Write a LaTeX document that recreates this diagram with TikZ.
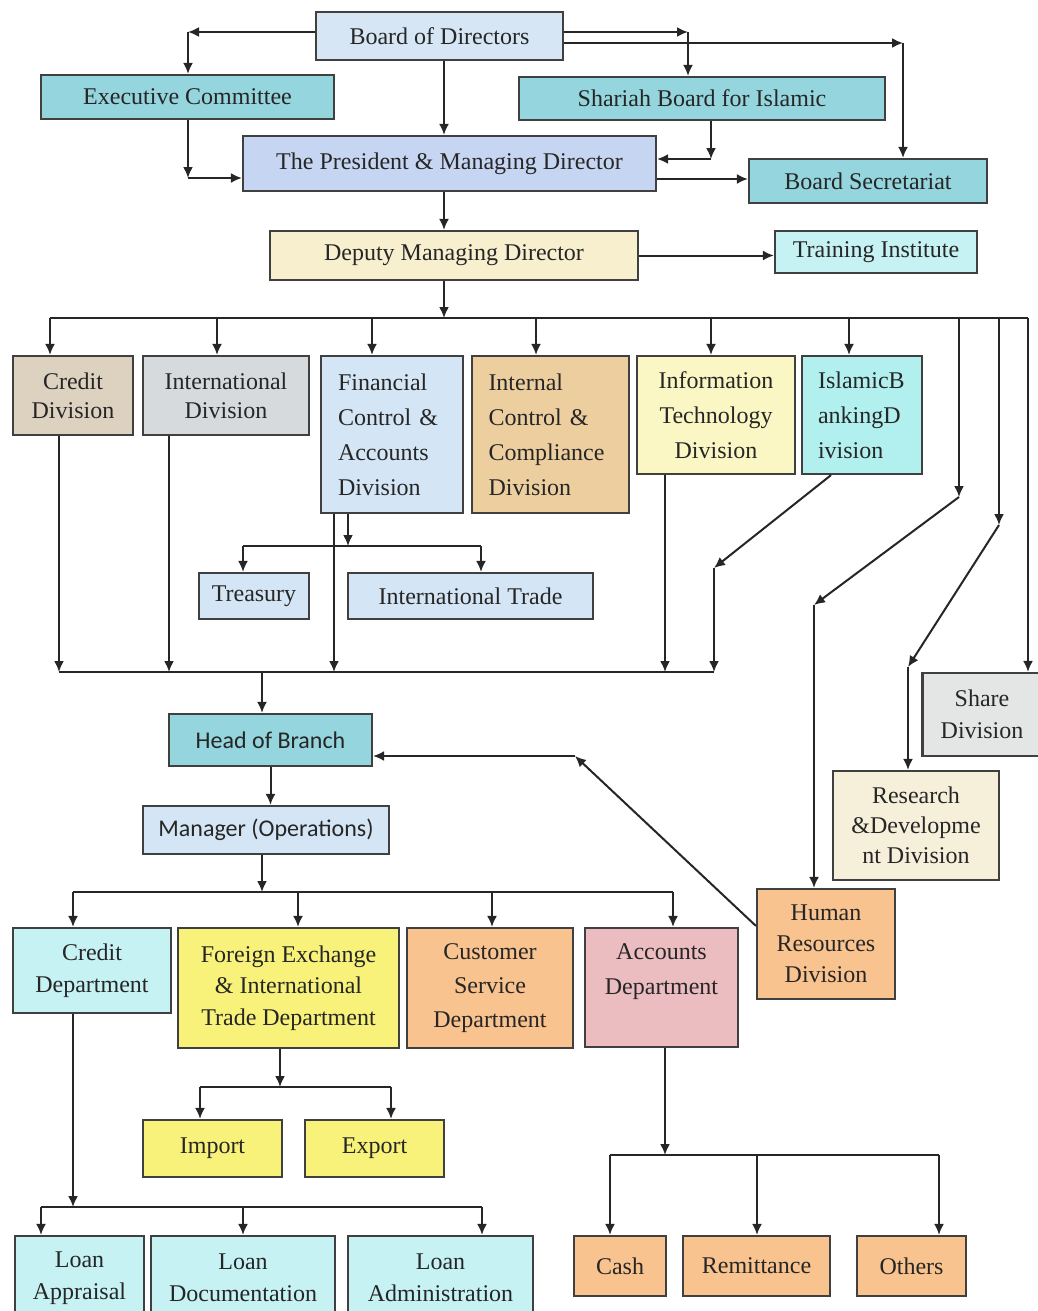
\documentclass[tikz,border=0pt]{standalone}
\usepackage{fontspec}
\setmainfont{Liberation Serif}
\newfontfamily\calibrifont{Carlito}
\usetikzlibrary{arrows.meta}

\definecolor{bodblue}{HTML}{D6E6F5}
\definecolor{teal1}{HTML}{95D5DE}
\definecolor{presblue}{HTML}{C6D6F2}
\definecolor{cream}{HTML}{F8EFCF}
\definecolor{paleaqua}{HTML}{C6F2F4}
\definecolor{tan1}{HTML}{DDD2C0}
\definecolor{greyish}{HTML}{D6DADC}
\definecolor{ltblue}{HTML}{D4E6F5}
\definecolor{tan2}{HTML}{EDCF9F}
\definecolor{ltyellow}{HTML}{FBF7C4}
\definecolor{aqua}{HTML}{B2F0F0}
\definecolor{ltgrey}{HTML}{E4E6E6}
\definecolor{cream2}{HTML}{F6F0DA}
\definecolor{orange1}{HTML}{F8C38E}
\definecolor{yellow1}{HTML}{F8F27A}
\definecolor{pink1}{HTML}{EBBCC0}

\begin{document}
\begin{tikzpicture}[
  x=0.5pt, y=-0.5pt,
  >={Latex[length=5.5pt,width=5pt]},
  box/.style={
    draw=black!75, line width=1.1pt, align=center, inner sep=2pt,
    font=\fontsize{12}{16}\selectfont, text=black!85
  },
  tallbox/.style={box, font=\fontsize{12}{17.5}\selectfont},
  shortbox/.style={box, font=\fontsize{12}{14.5}\selectfont},
  arrow/.style={->, line width=1pt, black!85},
  link/.style={line width=1pt, black!85}
]
\clip (0,0) rectangle (1038,1311);
\fill[white] (0,0) rectangle (1038,1311);

% ---------- BOARD LEVEL ----------
\node[box, fill=bodblue, minimum width=123.5pt, minimum height=24pt] (board) at (439.5,36) {Board of Directors};
\node[box, fill=teal1, minimum width=146.5pt, minimum height=22pt] (excom) at (187.5,97) {Executive Committee};
\node[box, fill=teal1, minimum width=183pt, minimum height=21.5pt] (shariah) at (702,98.5) {Shariah Board for Islamic};
\node[box, fill=presblue, minimum width=206.5pt, minimum height=27.5pt] (president) at (449.5,163.5) {The President \& Managing Director};
\node[box, fill=teal1, minimum width=119pt, minimum height=22pt] (secretariat) at (868,181) {Board Secretariat};
\node[box, fill=cream, minimum width=184pt, minimum height=24.5pt] (deputy) at (454,255.5) {Deputy Managing Director};
\node[box, fill=paleaqua, minimum width=101pt, minimum height=21pt] (training) at (876,252) {Training Institute};

\coordinate (spine) at (444,0);
\coordinate (bk1) at (188,32);
\coordinate (bk2) at (688,32);
\coordinate (bk3) at (903,43);
\coordinate (bk4) at (188,178);
\coordinate (bk5) at (711,159);
\coordinate (bk6) at (0,179);

\draw[arrow] (board.west |- bk1) -- (bk1);
\draw[arrow] (bk1) -- (bk1 |- excom.north);
\draw[arrow] (board.east |- bk2) -- (bk2);
\draw[arrow] (bk2) -- (bk2 |- shariah.north);
\draw[arrow] (board.east |- bk3) -- (bk3);
\draw[arrow] (bk3) -- (bk3 |- secretariat.north);
\draw[arrow] (spine |- board.south) -- (spine |- president.north);
\draw[arrow] (bk1 |- excom.south) -- (bk4);
\draw[arrow] (bk4) -- (bk4 -| president.west);
\draw[arrow] (bk5 |- shariah.south) -- (bk5);
\draw[arrow] (bk5) -- (bk5 -| president.east);
\draw[arrow] (bk6 -| president.east) -- (bk6 -| secretariat.west);
\draw[arrow] (spine |- president.south) -- (spine |- deputy.north);
\draw[arrow] (deputy.east) -- (deputy.east -| training.west);

% ---------- DIVISIONS ----------
\node[shortbox, fill=tan1, minimum width=60pt, minimum height=39.5pt] (creditdiv) at (73,395.5) {Credit\\Division};
\node[shortbox, fill=greyish, minimum width=83pt, minimum height=39.5pt] (intldiv) at (226,395.5) {International\\Division};
\node[tallbox, fill=ltblue, minimum width=71pt, minimum height=78.5pt, align=left, text width=54pt, inner xsep=8.5pt] (fincon) at (392,434.5) {Financial\\Control \&\\Accounts\\Division};
\node[tallbox, fill=tan2, minimum width=78.5pt, minimum height=78.5pt, align=left, text width=62pt, inner xsep=8pt] (intcon) at (550.5,434.5) {Internal\\Control \&\\Compliance\\Division};
\node[tallbox, fill=ltyellow, minimum width=79pt, minimum height=59pt] (itdiv) at (716,415) {Information\\Technology\\Division};
\node[tallbox, fill=aqua, minimum width=60pt, minimum height=59pt, align=left, text width=44pt, inner xsep=8pt] (ibdiv) at (862,415) {IslamicB\\ankingD\\ivision};
\node[box, fill=ltblue, minimum width=55pt, minimum height=23pt] (treasury) at (254,596) {Treasury};
\node[box, fill=ltblue, minimum width=122.5pt, minimum height=23pt] (inttrade) at (470.5,596) {International Trade};
\node[box, fill=ltgrey, minimum width=59.5pt, minimum height=41.5pt] (sharediv) at (982,714.5) {Share\\Division};
\node[box, fill=cream2, minimum width=83pt, minimum height=54.5pt, font=\fontsize{12}{15}\selectfont] (rnddiv) at (916,825.5) {Research\\\&Developme\\nt Division};
\node[box, fill=orange1, minimum width=69pt, minimum height=55pt, font=\fontsize{12}{15.5}\selectfont] (hrdiv) at (826,944) {Human\\Resources\\Division};

\draw[arrow] (spine |- deputy.south) -- (444,318);
\draw[link] (50,318) -- (1028,318);
\foreach \x/\n in {50/creditdiv,217/intldiv,372/fincon,536/intcon,711/itdiv,849/ibdiv}
  \draw[arrow] (\x,318) -- (\x,0 |- \n.north);

% right-hand branches
\coordinate (hrk1) at (959,497);
\coordinate (hrk2) at (814,605);
\coordinate (rdk1) at (999,525);
\coordinate (rdk2) at (908,667);
\draw[arrow] (959,318) -- (hrk1);
\draw[arrow] (hrk1) -- (hrk2);
\draw[arrow] (hrk2) -- (hrk2 |- hrdiv.north);
\draw[arrow] (999,318) -- (rdk1);
\draw[arrow] (rdk1) -- (rdk2);
\draw[arrow] (rdk2) -- (rdk2 |- rnddiv.north);
\draw[arrow] (1028,318) -- (1028,0 |- sharediv.north);

% treasury / trade
\draw[arrow] (348,0 |- fincon.south) -- (348,546);
\draw[link] (243,546) -- (481,546);
\draw[arrow] (243,546) -- (243,0 |- treasury.north);
\draw[arrow] (481,546) -- (481,0 |- inttrade.north);

% ---------- BRANCH ----------
\node[box, fill=teal1, minimum width=101.5pt, minimum height=26pt, font=\calibrifont\fontsize{12}{14}\selectfont] (branch) at (270.5,740) {Head of Branch};
\node[box, fill=ltblue, minimum width=123pt, minimum height=24pt, font=\calibrifont\fontsize{12}{14}\selectfont] (manager) at (266,830) {Manager (Operations)};

\draw[link] (59,672) -- (714,672);
\foreach \x/\n in {59/creditdiv,169/intldiv,334/fincon,665/itdiv}
  \draw[arrow] (\x,0 |- \n.south) -- (\x,672);
\coordinate (ibk) at (714,568);
\draw[arrow] (831,0 |- ibdiv.south) -- (ibk);
\draw[arrow] (ibk) -- (714,672);
\draw[arrow] (262,672) -- (262,0 |- branch.north);
\draw[arrow] (branch.south) -- (branch.south |- manager.north);

\coordinate (hrk3) at (575,756);
\draw[arrow] ([yshift=-19pt]hrdiv.north west) -- (hrk3);
\draw[arrow] (hrk3) -- (branch.east |- hrk3);

% ---------- DEPARTMENTS ----------
\node[box, fill=paleaqua, minimum width=79pt, minimum height=42.5pt] (creditdep) at (92,970.5) {Credit\\Department};
\node[box, fill=yellow1, minimum width=110.5pt, minimum height=60pt, font=\fontsize{12}{15.75}\selectfont] (fxdep) at (288.5,988) {Foreign Exchange\\\& International\\Trade Department};
\node[box, fill=orange1, minimum width=83pt, minimum height=60pt, font=\fontsize{12}{17}\selectfont] (csdep) at (490,988) {Customer\\Service\\Department};
\node[box, fill=pink1, minimum width=76.5pt, minimum height=59.5pt, font=\fontsize{12}{17.5}\selectfont, text depth=18pt] (accdep) at (661.5,987.5) {Accounts\\Department};

\draw[arrow] (262,0 |- manager.south) -- (262,892);
\draw[link] (73,892) -- (673,892);
\foreach \x/\n in {73/creditdep,298/fxdep,492/csdep,673/accdep}
  \draw[arrow] (\x,892) -- (\x,0 |- \n.north);

% ---------- SECTIONS ----------
\node[box, fill=yellow1, minimum width=69.5pt, minimum height=28.5pt] (import) at (212.5,1148.5) {Import};
\node[box, fill=yellow1, minimum width=69.5pt, minimum height=28.5pt] (export) at (374.5,1148.5) {Export};
\node[box, fill=paleaqua, minimum width=64.5pt, minimum height=42pt] (loanapp) at (79.5,1278) {Loan\\Appraisal};
\node[box, fill=paleaqua, minimum width=92pt, minimum height=42pt] (loandoc) at (243,1278) {Loan\\Documentation};
\node[box, fill=paleaqua, minimum width=92.5pt, minimum height=42pt] (loanadm) at (440.5,1278) {Loan\\Administration};
\node[box, fill=orange1, minimum width=46pt, minimum height=30pt] (cash) at (620,1266) {Cash};
\node[box, fill=orange1, minimum width=73.5pt, minimum height=30pt] (remit) at (756.5,1266) {Remittance};
\node[box, fill=orange1, minimum width=54.5pt, minimum height=30pt] (others) at (911.5,1266) {Others};

\draw[arrow] (280,0 |- fxdep.south) -- (280,1087);
\draw[link] (200,1087) -- (391,1087);
\draw[arrow] (200,1087) -- (200,0 |- import.north);
\draw[arrow] (391,1087) -- (391,0 |- export.north);

\draw[arrow] (73,0 |- creditdep.south) -- (73,1207);
\draw[link] (41,1207) -- (482,1207);
\foreach \x/\n in {41/loanapp,243/loandoc,482/loanadm}
  \draw[arrow] (\x,1207) -- (\x,0 |- \n.north);

\draw[arrow] (665,0 |- accdep.south) -- (665,1155);
\draw[link] (610,1155) -- (939,1155);
\foreach \x/\n in {610/cash,757/remit,939/others}
  \draw[arrow] (\x,1155) -- (\x,0 |- \n.north);

\end{tikzpicture}
\end{document}
